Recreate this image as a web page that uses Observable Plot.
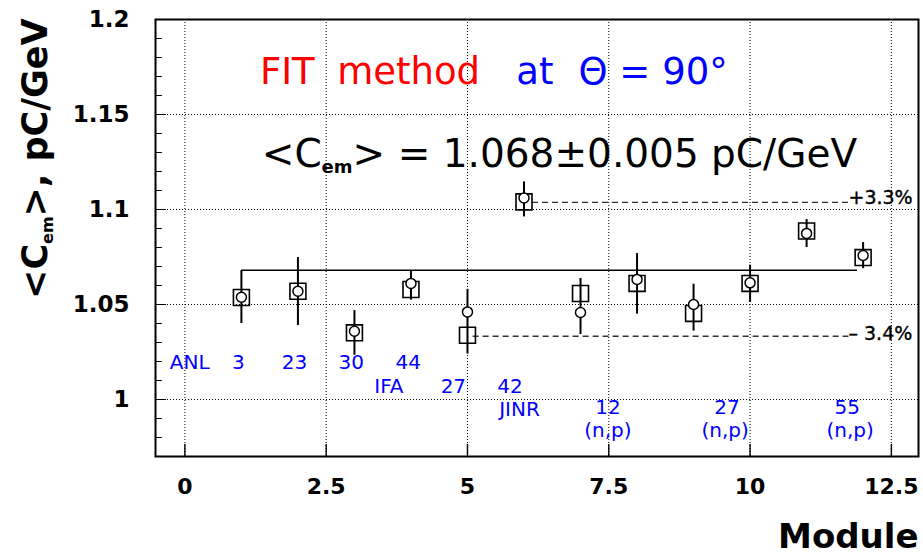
<!DOCTYPE html>
<html><head><meta charset="utf-8">
<script src="https://cdn.jsdelivr.net/npm/d3@7"></script>
<script src="https://cdn.jsdelivr.net/npm/@observablehq/plot@0.6"></script>
<style>body{margin:0;background:#fff}#chart{width:923px;height:558px}</style>
</head><body><div id="chart"></div>
<script>
// ---- data ----
const modules       = [1, 2, 3, 4, 5, 6, 7, 8, 9, 10, 11, 12];
const squareValues  = [1.0537, 1.0570, 1.0351, 1.0579, 1.0338, 1.1040, 1.0558, 1.0611, 1.0453, 1.0611, 1.0887, 1.0747];
const circleValues  = [1.0538, 1.0570, 1.0359, 1.0611, 1.0461, 1.1061, 1.0458, 1.0632, 1.0500, 1.0614, 1.0874, 1.0758];
const errorLow      = [1.0400, 1.0389, 1.0233, 1.0523, 1.0239, 1.0961, 1.0342, 1.0449, 1.0360, 1.0511, 1.0800, 1.0689];
const errorHigh     = [1.0677, 1.0747, 1.0468, 1.0677, 1.0580, 1.1145, 1.0637, 1.0768, 1.0607, 1.0707, 1.0947, 1.0826];
const fitMean = 1.068;
const fitRange = [1, 11.9];
const bandUpper = 1.1037, bandUpperRange = [6.15, 11.75];
const bandLower = 1.0333, bandLowerRange = [5.1, 11.75];

const xTicks = [0, 2.5, 5, 7.5, 10, 12.5];
const yTicks = [1, 1.05, 1.1, 1.15, 1.2];
const yGrid  = [1, 1.05, 1.1, 1.15];
const yMinorTicks = [0.97, 0.98, 0.99, 1.01, 1.02, 1.03, 1.04, 1.06, 1.07, 1.08, 1.09, 1.11, 1.12, 1.13, 1.14, 1.16, 1.17, 1.18, 1.19];
const yMajorTicks = [1.00, 1.05, 1.10, 1.15];

const xTitle = "Module";
const yTitle = "<C_{em}>, pC/GeV";

// blue group annotations (text, module position, value position)
const groupText = ["ANL", "3", "23", "30", "44", "IFA", "27", "42", "JINR", "12", "27", "55", "(n,p)", "(n,p)", "(n,p)"];
const groupX    = [0.086, 0.947, 1.94, 2.945, 3.95, 3.61, 4.75, 5.75, 5.92, 7.485, 9.59, 11.72, 7.485, 9.56, 11.77];
const groupY    = [1.0192, 1.0192, 1.0192, 1.0192, 1.0192, 1.0068, 1.0068, 1.0068, 0.9945, 0.9960, 0.9960, 0.9960, 0.9838, 0.9838, 0.9838];

// headline annotations
const headText  = ["FIT", "method", "at", "Θ = 90°"];
const headColor = ["#ff0000", "#ff0000", "#0000ff", "#0000ff"];
const headX     = [1.327, 2.695, 5.864, 6.964];
const headY     = 1.1724;
const formulaText = "<C_{em}> = 1.068±0.005 pC/GeV";
const formulaX = 1.359, formulaY = 1.1292;
const bandText = ["+3.3%", "– 3.4%"];
const bandTextX = [11.741, 11.741];
const bandTextY = [1.10595, 1.03474];

const xMin = -0.52, xMax = 12.98, yMin = 0.97, yMax = 1.2;

const rows = modules.map((m, i) => ({m, sq: squareValues[i], ci: circleValues[i], lo: errorLow[i], hi: errorHigh[i]}));
const groups = groupText.map((t, i) => ({t, x: groupX[i], y: groupY[i]}));
const heads = headText.map((t, i) => ({t, c: headColor[i], x: headX[i]}));
const bands = bandText.map((t, i) => ({t, x: bandTextX[i], y: bandTextY[i]}));

const font = "DejaVu Sans";
const tickLine = {draw(context, l) { context.moveTo(0, 0); context.lineTo(0, -l); }};

const plot = Plot.plot({
  width: 923, height: 558,
  marginLeft: 155, marginRight: 5, marginTop: 19, marginBottom: 102,
  x: {domain: [xMin, xMax]},
  y: {domain: [yMin, yMax]},
  style: {background: "white", fontFamily: font, color: "black"},
  marks: [
    Plot.gridX({ticks: xTicks, stroke: "black", strokeOpacity: 1, strokeWidth: 1, strokeDasharray: "1,2"}),
    Plot.gridY({ticks: yGrid, stroke: "black", strokeOpacity: 1, strokeWidth: 1, strokeDasharray: "1,2"}),
    Plot.axisX({ticks: xTicks, tickSize: 0, tickPadding: 22, tickFormat: d => `${d}`, fontSize: 22, fontWeight: "bold", fontFamily: font, label: null}),
    Plot.axisY({ticks: yTicks, tickSize: 0, tickPadding: 26, tickFormat: d => `${d}`, fontSize: 23, fontWeight: "bold", fontFamily: font, label: null}),
    // inward tick marks
    Plot.vector(yMinorTicks, {x: () => xMin, y: d => d, length: 6, rotate: 90, anchor: "start", shape: tickLine, stroke: "black", strokeWidth: 1.2}),
    Plot.vector(yMajorTicks, {x: () => xMin, y: d => d, length: 10, rotate: 90, anchor: "start", shape: tickLine, stroke: "black", strokeWidth: 1.2}),
    Plot.vector(xTicks, {x: d => d, y: () => yMin, length: 12, rotate: 0, anchor: "start", shape: tickLine, stroke: "black", strokeWidth: 1.4}),
    // fit line and band
    Plot.ruleY([fitMean], {x1: fitRange[0], x2: fitRange[1], stroke: "black", strokeWidth: 1.5}),
    Plot.ruleY([bandUpper], {x1: bandUpperRange[0], x2: bandUpperRange[1], stroke: "#333", strokeWidth: 1.3, strokeDasharray: "6,4"}),
    Plot.ruleY([bandLower], {x1: bandLowerRange[0], x2: bandLowerRange[1], stroke: "#333", strokeWidth: 1.3, strokeDasharray: "6,4"}),
    // data
    Plot.ruleX(rows, {x: "m", y1: "lo", y2: "hi", stroke: "black", strokeWidth: 2}),
    Plot.dot(rows, {x: "m", y: "sq", symbol: "square", r: 9, stroke: "black", fill: "none", strokeWidth: 1.6}),
    Plot.dot(rows, {x: "m", y: "ci", symbol: "circle", r: 5, stroke: "black", fill: "white", strokeWidth: 1.5}),
    // annotations
    Plot.text(groups, {x: "x", y: "y", text: "t", fill: "#0000ff", fontSize: 20, fontFamily: font}),
    Plot.text(heads, {x: "x", y: () => headY, text: "t", fill: "c", textAnchor: "start", fontSize: 37, fontFamily: font}),
    Plot.text([formulaText], {x: () => formulaX, y: () => formulaY, text: d => d, textAnchor: "start", fontSize: 39, fontFamily: font, fill: "black"}),
    Plot.text(bands, {x: "x", y: "y", text: "t", textAnchor: "start", fontSize: 19, fontFamily: font, fill: "black", stroke: "black", strokeWidth: 0.4}),
    Plot.text([yTitle], {frameAnchor: "top-left", text: d => d, rotate: -90, textAnchor: "end", lineAnchor: "middle", dx: -120, dy: -1, fontSize: 35, fontWeight: "bold", fontFamily: font, fill: "black"}),
    Plot.text([xTitle], {frameAnchor: "bottom-right", text: d => d, textAnchor: "end", lineAnchor: "middle", dy: 81, fontSize: 34, fontWeight: "bold", fontFamily: font, fill: "black"}),
    Plot.frame({stroke: "black", strokeWidth: 2})
  ]
});

document.getElementById("chart").appendChild(plot);

// subscripts written as _{...}
d3.select(plot).selectAll("text").each(function () {
  const t = this.textContent;
  const m = t.match(/^(.*)_\{(.*?)\}(.*)$/);
  if (!m) return;
  const fs = parseFloat(getComputedStyle(this).fontSize);
  const sub = Math.round(fs * 0.46), shift = Math.round(fs * 0.17);
  const s = d3.select(this);
  s.text(null);
  s.append("tspan").text(m[1]);
  s.append("tspan").text(m[2]).attr("font-size", sub).attr("font-weight", "bold").attr("dy", shift);
  s.append("tspan").text(m[3]).attr("dy", -shift);
});
</script>
</body></html>
